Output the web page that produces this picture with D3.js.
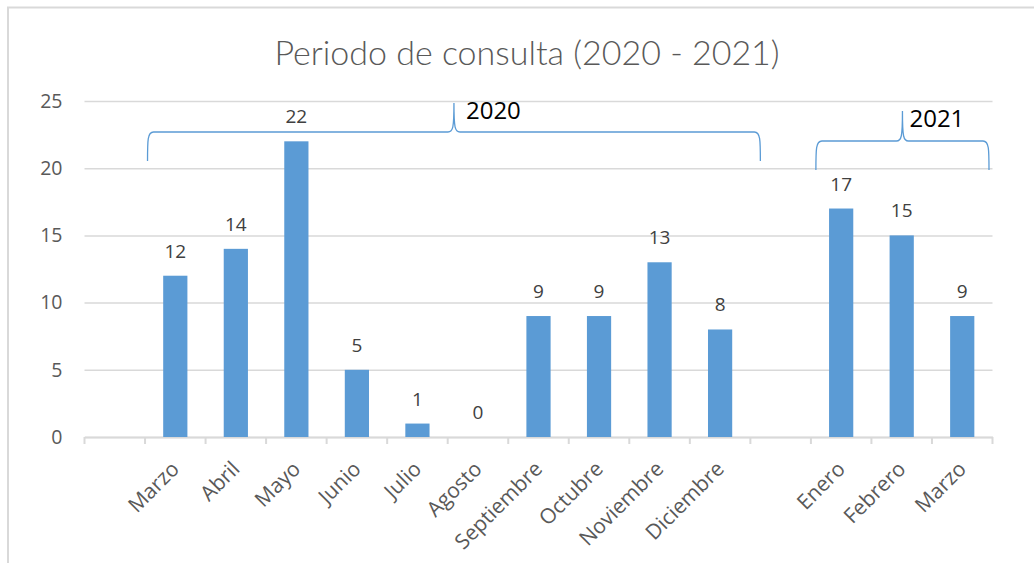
<!DOCTYPE html>
<html>
<head>
<meta charset="utf-8">
<script src="https://cdn.jsdelivr.net/npm/d3@7"></script>
<style>
  html, body { margin: 0; padding: 0; background: #fff; }
  svg { display: block; }
</style>
</head>
<body>
<svg id="chart" width="1034" height="563"></svg>
<script>
// ---- data ----
const title = "Periodo de consulta (2020 - 2021)";
const months = ["", "Marzo", "Abril", "Mayo", "Junio", "Julio", "Agosto", "Septiembre", "Octubre", "Noviembre", "Diciembre", "", "Enero", "Febrero", "Marzo"];
const values = [null, 12, 14, 22, 5, 1, 0, 9, 9, 13, 8, null, 17, 15, 9];
const yTicks = [0, 5, 10, 15, 20, 25];
const groupLabels = ["2020", "2021"];
const groupFirst = [1, 12];   // first slot index of each group
const groupLast = [10, 14];   // last slot index of each group

// ---- layout ----
const W = 1034, H = 563;
const plot = { left: 84.5, right: 992.5, top: 101, bottom: 437 };
const svg = d3.select("#chart");
const font = "'Open Sans', 'DejaVu Sans', sans-serif";

// border (top and left lines only visible)
svg.append("line").attr("x1", 7).attr("x2", W).attr("y1", 7.5).attr("y2", 7.5)
  .attr("stroke", "#d9d9d9").attr("stroke-width", 2);
svg.append("line").attr("x1", 8).attr("x2", 8).attr("y1", 7).attr("y2", H)
  .attr("stroke", "#d9d9d9").attr("stroke-width", 2);

const idx = d3.range(months.length);
const x = d3.scaleBand().domain(idx).range([plot.left, plot.right]).padding(0);
const y = d3.scaleLinear().domain([0, 25]).range([plot.bottom, plot.top]);
const barW = x.step() * 0.4;

// title
svg.append("text")
  .attr("x", 527).attr("y", 65)
  .attr("text-anchor", "middle")
  .attr("font-family", "Lato, 'Open Sans', sans-serif")
  .attr("font-weight", 300)
  .attr("font-size", 34)
  .attr("fill", "#595959")
  .text(title);

// gridlines + y labels
const yAxis = d3.axisLeft(y).tickValues(yTicks).tickSize(-(plot.right - plot.left)).tickPadding(22);
const gy = svg.append("g").attr("transform", `translate(${plot.left},0)`).call(yAxis);
gy.select(".domain").remove();
gy.selectAll(".tick line").attr("stroke", "#d9d9d9").attr("stroke-width", 1.5);
gy.selectAll(".tick text").attr("font-family", font).attr("font-size", 19.5).attr("fill", "#595959");

// x axis
const xAxis = d3.axisBottom(x).tickSize(0).tickFormat(i => months[i]);
const gx = svg.append("g").attr("transform", `translate(0,${plot.bottom})`).call(xAxis);
gx.select(".domain").attr("stroke", "#d9d9d9").attr("stroke-width", 2);
// tick marks at slot boundaries
gx.selectAll(".bound").data(d3.range(months.length + 1)).enter().append("line")
  .attr("class", "bound")
  .attr("x1", i => plot.left + i * x.step()).attr("x2", i => plot.left + i * x.step())
  .attr("y1", 0).attr("y2", 7)
  .attr("stroke", "#d9d9d9").attr("stroke-width", 2);
gx.selectAll(".tick text")
  .attr("font-family", font).attr("font-size", 21).attr("fill", "#595959")
  .attr("text-anchor", "end")
  .attr("transform", "translate(0,28) rotate(-45)")
  .attr("dy", "0.35em").attr("y", 0).attr("x", 0);

// bars
const barData = idx.filter(i => values[i] !== null);
svg.append("g").selectAll("rect").data(barData).enter().append("rect")
  .attr("x", i => x(i) + (x.bandwidth() - barW) / 2)
  .attr("width", barW)
  .attr("y", i => y(values[i]))
  .attr("height", i => y(0) - y(values[i]))
  .attr("fill", "#5b9bd5");

// value labels
svg.append("g").selectAll("text").data(barData).enter().append("text")
  .attr("x", i => x(i) + x.bandwidth() / 2)
  .attr("y", i => y(values[i]) - 18)
  .attr("text-anchor", "middle")
  .attr("font-family", font).attr("font-size", 19).attr("fill", "#404040")
  .text(i => values[i]);

// group brackets
const bracketTop = [103, 111];
const bracketMid = [132, 141];
const bracketBot = [161, 170];
const bracketStartOff = [2.5, 5];
const bracketEndOff = [10, -3.5];
const labelOff = [12, 7];
groupLabels.forEach((lab, g) => {
  const x0 = x(groupFirst[g]) + bracketStartOff[g];
  const x1 = g === 0 ? x(groupLast[g] + 1) + bracketEndOff[g] : x(groupLast[g]) + x.step() + bracketEndOff[g];
  const tip = (x0 + x1) / 2;
  const t = bracketTop[g], m = bracketMid[g], b = bracketBot[g];
  const r = 6;
  const p = d3.path();
  p.moveTo(x0, b);
  p.bezierCurveTo(x0, m + 8, x0, m, x0 + r, m);
  p.lineTo(tip - r, m);
  p.bezierCurveTo(tip - 1, m, tip, m - 4, tip, t);
  p.bezierCurveTo(tip, m - 4, tip + 1, m, tip + r, m);
  p.lineTo(x1 - r, m);
  p.bezierCurveTo(x1, m, x1, m + 8, x1, b);
  svg.append("path").attr("d", p.toString())
    .attr("fill", "none").attr("stroke", "#5b9bd5").attr("stroke-width", 1.3);
  svg.append("text")
    .attr("x", tip + labelOff[g]).attr("y", t + 16)
    .attr("font-family", "'Liberation Sans Narrow', 'Open Sans', sans-serif")
    .attr("font-size", 24).attr("fill", "#000")
    .text(lab);
});
</script>
</body>
</html>
